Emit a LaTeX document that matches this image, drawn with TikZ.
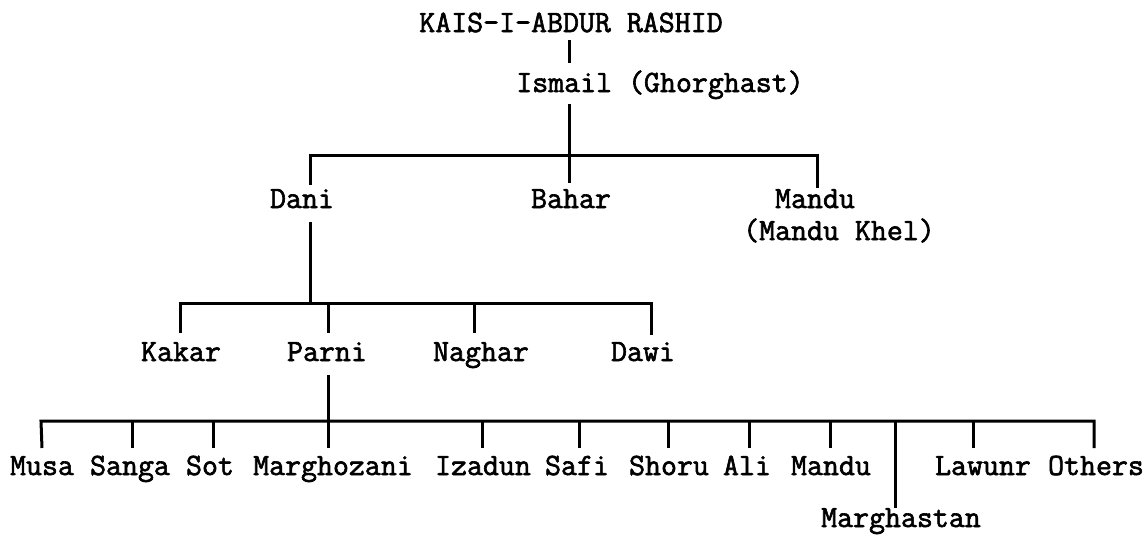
\documentclass[tikz,border=0pt]{standalone}
\usepackage{fontspec}
\newfontfamily\tw{Latin Modern Mono}[RawFeature={embolden=2}]
\begin{document}
\begin{tikzpicture}[x=1pt,y=-1pt,
  lbl/.style={anchor=base,inner sep=0pt,font=\tw\fontsize{31}{31}\selectfont},
  ln/.style={line width=3pt}]
\useasboundingbox (0,0) rectangle (1144,536);
% texts
\node[lbl] (kais) at (571,32) {KAIS-I-ABDUR RASHID};
\node[lbl] (ismail) at (660,92) {Ismail (Ghorghast)};
\node[lbl] (dani) at (302,208) {Dani};
\node[lbl] (bahar) at (571,208) {Bahar};
\node[lbl] (mandu) at (815,208) {Mandu};
\node[lbl] (mkhel) at (839,240) {(Mandu Khel)};
\node[lbl] (kakar) at (181,361) {Kakar};
\node[lbl] (parni) at (327,361) {Parni};
\node[lbl] (naghar) at (481,361) {Naghar};
\node[lbl] (dawi) at (643,361) {Dawi};
\node[lbl] (musa) at (42,475) {Musa};
\node[lbl] (sanga) at (130,475) {Sanga};
\node[lbl] (sot) at (210,475) {Sot};
\node[lbl] (marghozani) at (333,475) {Marghozani};
\node[lbl] (izadun) at (483,475) {Izadun};
\node[lbl] (safi) at (577,475) {Safi};
\node[lbl] (shoru) at (669,475) {Shoru};
\node[lbl] (ali) at (747,475) {Ali};
\node[lbl] (mandub) at (831,475) {Mandu};
\node[lbl] (marghastan) at (901,527) {Marghastan};
\node[lbl] (lawunr) at (983,475) {Lawunr};
\node[lbl] (others) at (1096,475) {Others};
% junction coordinates
\coordinate (k1) at (569,40);
\coordinate (k2) at (569,63);
\coordinate (i1) at (569,104);
\coordinate (i2) at (569,155);
\coordinate (b1l) at (310,155);
\coordinate (b1r) at (817,155);
\coordinate (d1) at (310,185);
\coordinate (bh) at (569,183);
\coordinate (md) at (817,188);
\coordinate (dn1) at (310,222);
\coordinate (dn2) at (310,303);
\coordinate (b2l) at (180,303);
\coordinate (b2r) at (651,303);
\coordinate (kk) at (180,333);
\coordinate (pt) at (328,303);
\coordinate (pp) at (328,333);
\coordinate (nt) at (474,303);
\coordinate (nn) at (474,333);
\coordinate (dw) at (651,335);
\coordinate (p1) at (328,375);
\coordinate (p2) at (328,421);
\coordinate (b3l) at (41,421);
\coordinate (b3r) at (1094,421);
\foreach \n/\x in {ms/42,sg/132,st/213,mz/328,iz/482,sf/579,sh/668,al/749,mb/830,lw/973,ot/1094}{
  \coordinate (\n t) at (\x,421);
  \coordinate (\n b) at (\x,448);
}
\coordinate (mgt) at (895,421);
\coordinate (mgb) at (895,508);
% lines
\draw[ln] (k1) -- (k2);
\draw[ln] (i1) -- (i2);
\draw[ln] (d1) -- (b1l) -- (b1r) -- (md);
\draw[ln] (i2) -- (bh);
\draw[ln] (dn1) -- (dn2);
\draw[ln] (kk) -- (b2l) -- (b2r) -- (dw);
\draw[ln] (pt) -- (pp);
\draw[ln] (nt) -- (nn);
\draw[ln] (p1) -- (p2);
\draw[ln] (msb) -- (b3l) -- (b3r) -- (otb);
\foreach \n in {sg,st,mz,iz,sf,sh,al,mb,lw}{
  \draw[ln] (\n t) -- (\n b);
}
\draw[ln] (mgt) -- (mgb);
\end{tikzpicture}
\end{document}
